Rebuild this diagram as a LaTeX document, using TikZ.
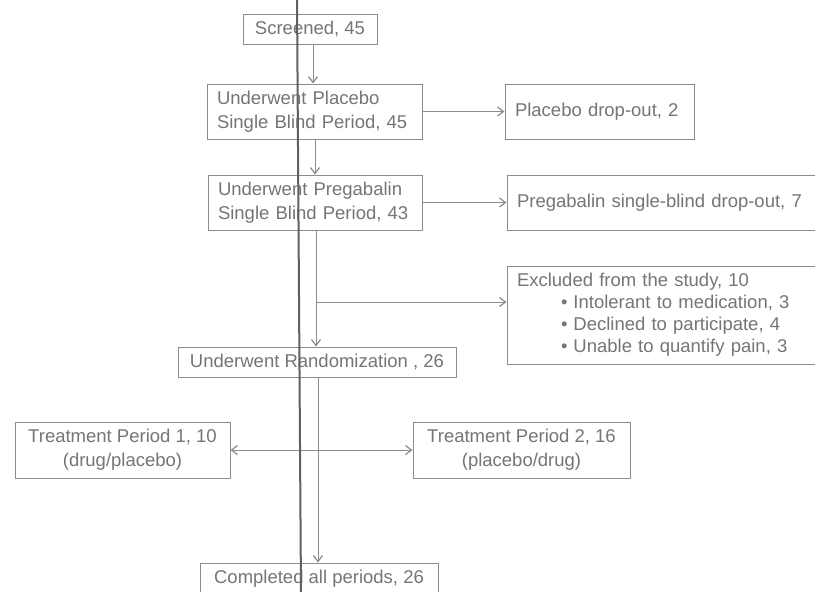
\documentclass[tikz,border=0pt]{standalone}
\usepackage{fontspec}
\setmainfont{Liberation Sans}
\usetikzlibrary{arrows.meta,calc}
\definecolor{boxc}{HTML}{8C8C8C}
\definecolor{txtc}{HTML}{757575}
\definecolor{scanc}{HTML}{606060}
\begin{document}
\begin{tikzpicture}[x=1pt,y=-1pt,
  box/.style={draw=boxc, line width=1pt, text=txtc, font=\fontsize{18.5}{24}\selectfont, inner sep=0pt, align=center},
  lbox/.style={box, align=left, inner xsep=10pt},
  tipx/.tip={Straight Barb[length=6pt,width=9pt,line width=1.2pt]},
  arr/.style={draw=boxc, line width=1pt, -tipx},
  darr/.style={draw=boxc, line width=1pt, tipx-tipx},
  scanline/.style={draw=scanc, line width=2pt}
]
\useasboundingbox (0,0) rectangle (815,592);
\clip (0,0) rectangle (815,592);
\fill[white] (0,0) rectangle (815,592);

\node[box, minimum width=134pt, minimum height=30pt] (scr) at (310,29) {Screened, 45};
\node[lbox, text width=195pt, minimum height=55pt] (plc) at (314.5,111.5) {Underwent Placebo\\Single Blind Period, 45};
\node[lbox, text width=169pt, minimum height=55pt] (pdo) at (599.5,111.5) {Placebo drop-out, 2};
\node[lbox, text width=194pt, minimum height=55pt] (prg) at (315,202.5) {Underwent Pregabalin\\Single Blind Period, 43};
\node[lbox, text width=291pt, minimum height=55pt] (pgdo) at (662.5,202.5) {Pregabalin single-blind drop-out, 7};
\node[lbox, text width=291pt, minimum height=98pt, font=\fontsize{18.5}{22}\selectfont] (exc) at (662.5,315)
  {Excluded from the study, 10\\
   \hspace*{44pt}•\hspace{6pt}Intolerant to medication, 3\\
   \hspace*{44pt}•\hspace{6pt}Declined to participate, 4\\
   \hspace*{44pt}•\hspace{6pt}Unable to quantify pain, 3};
\node[box, minimum width=278pt, minimum height=30pt] (rnd) at (317,362) {Underwent Randomization , 26};
\node[box, minimum width=215pt, minimum height=56pt] (t1) at (122.5,450) {Treatment Period 1, 10\\(drug/placebo)};
\node[box, minimum width=217pt, minimum height=56pt] (t2) at (521.5,450) {Treatment Period 2, 16\\(placebo/drug)};
\node[box, minimum width=238pt, minimum height=31pt] (cmp) at (319,578.5) {Completed all periods, 26};

\coordinate (a1) at (313,0);
\coordinate (a2) at (315,0);
\coordinate (a3) at (316,0);
\coordinate (a4) at (318,0);
\coordinate (br) at (316,302);

\draw[arr] (scr.south -| a1) -- (plc.north -| a1);
\draw[arr] (plc.east) -- (pdo.west);
\draw[arr] (plc.south -| a2) -- (prg.north -| a2);
\draw[arr] (prg.east) -- (pgdo.west);
\draw[arr] (prg.south -| a3) -- (rnd.north -| a3);
\draw[arr] (br) -- (br -| exc.west);
\draw[arr] (rnd.south -| a4) -- (cmp.north -| a4);
\draw[darr] (t1.east) -- (t2.west);

% scanning artefact visible in the reference
\draw[scanline] (297,-2) -- (301,594);
\end{tikzpicture}
\end{document}
